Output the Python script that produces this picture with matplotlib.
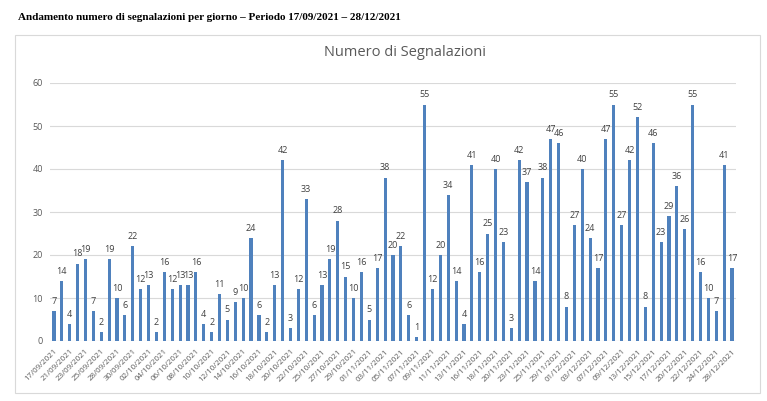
import matplotlib
matplotlib.use("Agg")
import matplotlib.pyplot as plt
from matplotlib.patches import Rectangle

values = [7, 14, 4, 18, 19, 7, 2, 19, 10, 6,
          22, 12, 13, 2, 16, 12, 13, 13, 16, 4,
          2, 11, 5, 9, 10, 24, 6, 2, 13, 42,
          3, 12, 33, 6, 13, 19, 28, 15, 10, 16,
          5, 17, 38, 20, 22, 6, 1, 55, 12, 20,
          34, 14, 4, 41, 16, 25, 40, 23, 3, 42,
          37, 14, 38, 47, 46, 8, 27, 40, 24, 17,
          47, 55, 27, 42, 52, 8, 46, 23, 29, 36,
          26, 55, 16, 10, 7, 41, 17]

tick_labels = ["17/09/2021", "21/09/2021", "23/09/2021", "25/09/2021", "28/09/2021",
               "30/09/2021", "02/10/2021", "04/10/2021", "06/10/2021", "08/10/2021",
               "10/10/2021", "12/10/2021", "14/10/2021", "16/10/2021", "18/10/2021",
               "20/10/2021", "22/10/2021", "25/10/2021", "27/10/2021", "29/10/2021",
               "01/11/2021", "03/11/2021", "05/11/2021", "07/11/2021", "09/11/2021",
               "11/11/2021", "13/11/2021", "16/11/2021", "18/11/2021", "20/11/2021",
               "23/11/2021", "25/11/2021", "29/11/2021", "01/12/2021", "03/12/2021",
               "07/12/2021", "09/12/2021", "13/12/2021", "15/12/2021", "17/12/2021",
               "20/12/2021", "22/12/2021", "24/12/2021", "28/12/2021"]

page_title = "Andamento numero di segnalazioni per giorno \u2013 Periodo 17/09/2021 \u2013 28/12/2021"
chart_title = "Numero di Segnalazioni"

W, H = 767, 401
fig = plt.figure(figsize=(W / 100, H / 100), dpi=100)
fig.patch.set_facecolor("white")

# outer chart frame
fig.patches.append(Rectangle((15 / W, 1 - 393 / H), (760 - 15) / W, (393 - 35) / H,
                             transform=fig.transFigure, fill=False,
                             edgecolor="#d9d9d9", linewidth=0.8))

fig.text(18 / W, 1 - 17 / H, page_title, fontsize=8.0, fontweight="bold",
         family="Liberation Serif", va="center", ha="left", color="black")
fig.text(405 / W, 1 - 52 / H, chart_title, fontsize=10.5, family="Open Sans",
         va="center", ha="center", color="#595959")

ax = fig.add_axes([50 / W, 1 - 341 / H, 686 / W, (341 - 83) / H])
x = list(range(len(values)))
bars = ax.bar(x, values, width=0.4, color="#4f81bd", zorder=3)
for xi, v in zip(x, values):
    ax.text(xi, v + 1.2, str(v), ha="center", va="bottom", fontsize=6.5,
            color="#404040", family="Open Sans", zorder=4)

ax.set_xlim(-0.5, len(values) - 0.5)
ax.set_ylim(0, 60)
ax.set_yticks(range(0, 61, 10))
ax.yaxis.grid(True, color="#d9d9d9", linewidth=0.8, zorder=0)
ax.set_xticks(x[::2])
ax.set_xticklabels(tick_labels, rotation=45, ha="right", rotation_mode="anchor",
                   fontsize=5.8, color="#595959", family="Open Sans")
for lab in ax.get_yticklabels():
    lab.set_fontsize(6.5)
    lab.set_color("#595959")
    lab.set_family("Open Sans")
ax.tick_params(axis="both", length=0, pad=5)
for s in ax.spines.values():
    s.set_visible(False)
ax.axhline(0, color="#d9d9d9", linewidth=0.8, zorder=1)

fig.savefig("out.png", dpi=100, facecolor="white")
